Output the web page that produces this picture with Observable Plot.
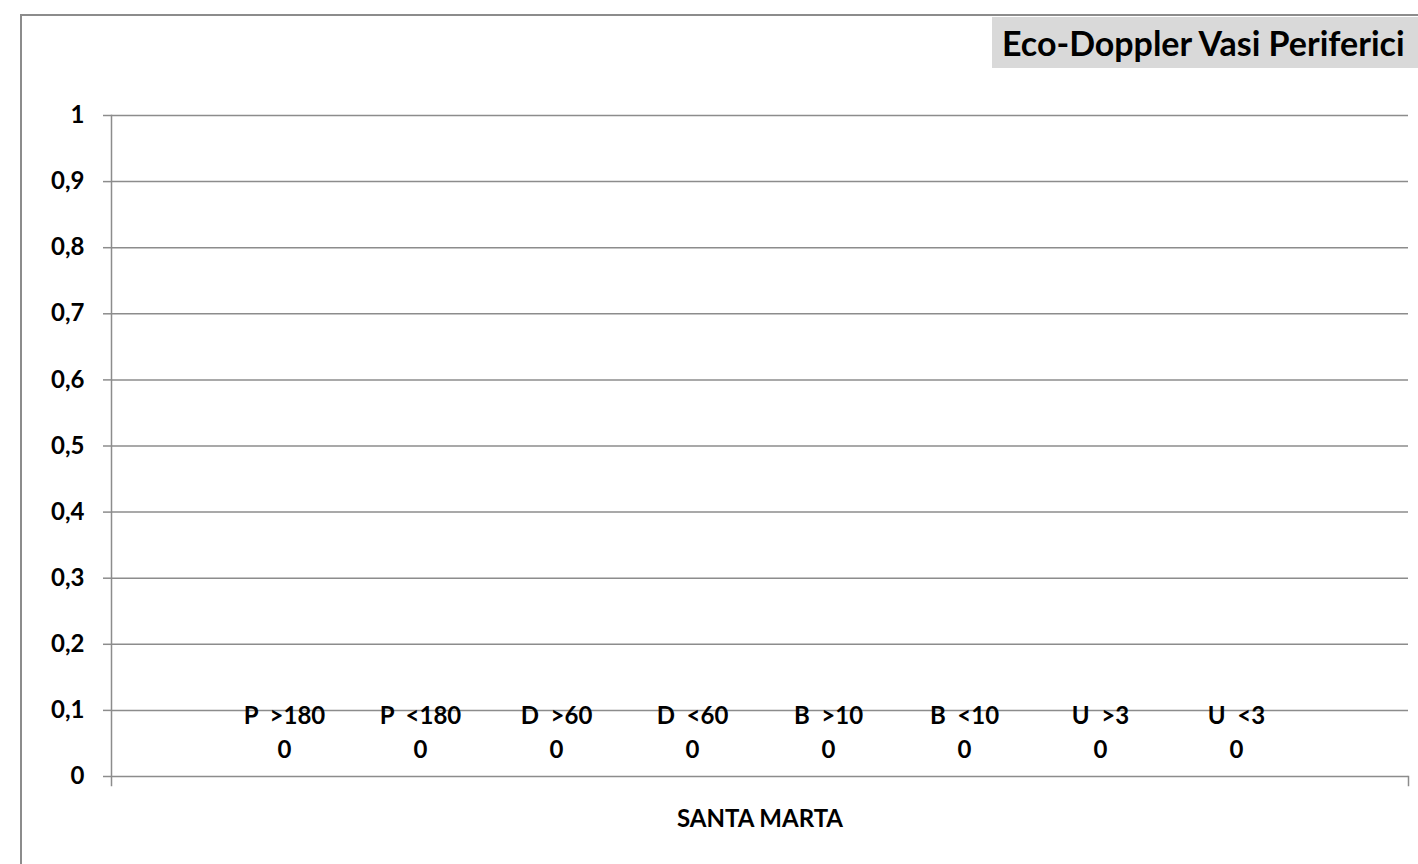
<!DOCTYPE html>
<html>
<head>
<meta charset="utf-8">
<script src="https://cdn.jsdelivr.net/npm/d3@7"></script>
<script src="https://cdn.jsdelivr.net/npm/@observablehq/plot@0.6"></script>
<style>
  body { margin: 0; background: #fff; }
  #wrap { position: relative; width: 1418px; height: 864px; overflow: hidden; font-family: Lato, "Open Sans", sans-serif; }
  #border { position: absolute; left: 20px; top: 14px; width: 1420px; height: 870px; border-left: 2px solid #8c8c8c; border-top: 2px solid #8c8c8c; box-sizing: border-box; }
  #title { position: absolute; left: 992px; top: 17px; width: 426px; height: 51px; background: #d9d9d9; font-weight: bold; font-size: 34px; line-height: 51px; padding-left: 10px; box-sizing: border-box; color: #000; white-space: nowrap; }
  #chart { position: absolute; left: 0; top: 0; }
  svg text { white-space: pre; }
</style>
</head>
<body>
<div id="wrap">
  <div id="border"></div>
  <div id="chart"></div>
  <div id="title">Eco-Doppler Vasi Periferici</div>
</div>
<script>
const categories = ["SANTA MARTA"];
const series = ["P  >180", "P  <180", "D  >60", "D  <60", "B  >10", "B  <10", "U  >3", "U  <3"];
const values = [0, 0, 0, 0, 0, 0, 0, 0];
const yTicks = [0, 0.1, 0.2, 0.3, 0.4, 0.5, 0.6, 0.7, 0.8, 0.9, 1];

const data = series.map((s, i) => ({category: categories[0], series: s, value: values[i]}));
const fmt = d => d3.format(".1~f")(d).replace(".", ",");
const gray = "#8c8c8c";
const font = "Lato, 'Open Sans', sans-serif";

const chart = Plot.plot({
  width: 1418,
  height: 864,
  marginLeft: 111,
  marginRight: 10,
  marginTop: 115,
  marginBottom: 88,
  style: {fontFamily: font, background: "transparent", overflow: "visible"},
  fx: {domain: categories, padding: 0, label: null},
  x: {domain: series, paddingInner: 0, paddingOuter: 0.75, axis: null},
  y: {domain: [0, 1], label: null},
  marks: [
    Plot.gridY(yTicks, {stroke: gray, strokeOpacity: 1, strokeWidth: 1.5}),
    Plot.axisY({ticks: yTicks, tickFormat: fmt, tickSize: 8, tickPadding: 19, stroke: gray, strokeWidth: 1.5, fill: "#000", fontSize: 24, fontWeight: "bold", label: null}),
    Plot.frame({anchor: "left", insetBottom: -9, stroke: gray, strokeWidth: 1.5}),
    Plot.frame({anchor: "right", insetTop: 661, insetBottom: -9, stroke: gray, strokeWidth: 1.5}),
    Plot.axisFx({anchor: "bottom", tickSize: 0, tickPadding: 33, fontSize: 24, fontWeight: "bold", fill: "#000", label: null}),
    Plot.barY(data, {fx: "category", x: "series", y: "value", fill: "#4f81bd"}),
    Plot.text(data, {fx: "category", x: "series", y: "value", text: d => `${d.series}\n${fmt(d.value)}`, lineAnchor: "middle", dy: -46, lineHeight: 1.42, fontSize: 24, fontWeight: "bold", fill: "#000"})
  ]
});
document.getElementById("chart").appendChild(chart);
</script>
</body>
</html>
